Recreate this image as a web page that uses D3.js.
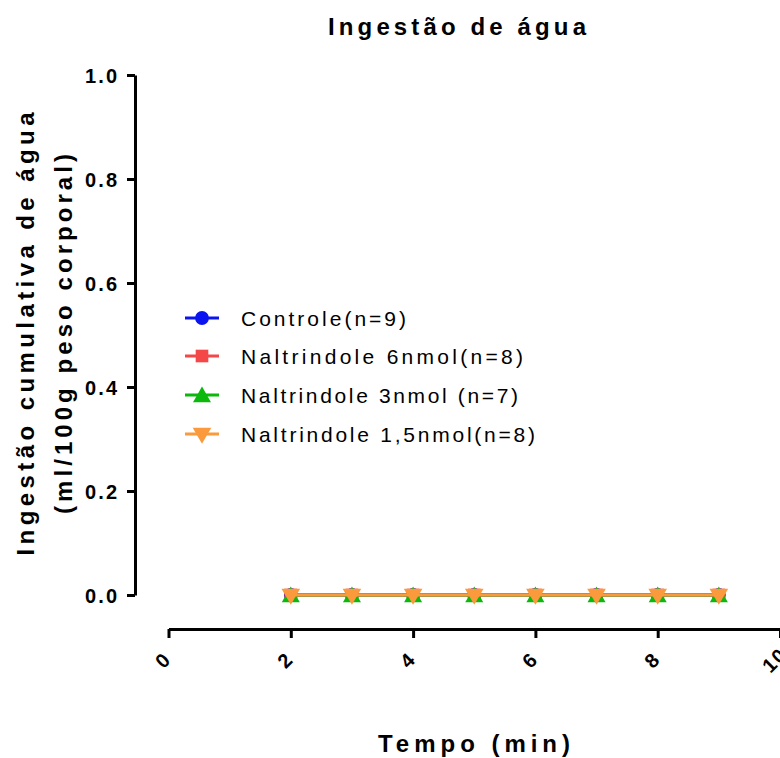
<!DOCTYPE html>
<html>
<head>
<meta charset="utf-8">
<script src="https://cdn.jsdelivr.net/npm/d3@7"></script>
<style>
  body { margin: 0; background: #fff; }
  svg { display: block; font-family: "Liberation Sans", Arial, sans-serif; }
</style>
</head>
<body>
<svg id="chart" width="780" height="758"></svg>
<script>
// Time points (min) and cumulative water intake per group
const times = [2, 3, 4, 5, 6, 7, 8, 9];
const controle = [0, 0, 0, 0, 0, 0, 0, 0];
const ntd6 = [0, 0, 0, 0, 0, 0, 0, 0];
const ntd3 = [0, 0, 0, 0, 0, 0, 0, 0];
const ntd15 = [0, 0, 0, 0, 0, 0, 0, 0];
const seriesNames = ["Controle(n=9)", "Naltrindole 6nmol(n=8)", "Naltrindole 3nmol (n=7)", "Naltrindole 1,5nmol(n=8)"];
const seriesColors = ["#0a14f0", "#f44848", "#0cb80c", "#fb9a3c"];
const xTicks = [0, 2, 4, 6, 8, 10];
const yTicks = [0, 0.2, 0.4, 0.6, 0.8, 1.0];

const FONT = "Liberation Sans, Arial, sans-serif";
const svg = d3.select("#chart");
const x = d3.scaleLinear().domain([0, 10]).range([168.5, 780]);
const y = d3.scaleLinear().domain([0, 1]).range([595, 75]);

// Wide-tracked text helper
function spaced(sel, len) {
  return sel.attr("textLength", len).attr("lengthAdjust", "spacing");
}

// Title
spaced(svg.append("text").attr("x", 457).attr("y", 35).attr("text-anchor", "middle")
  .attr("font-size", 24).attr("font-weight", "bold")
  .text("Ingestão de água"), 258);

// Y axis
const yAxis = svg.append("g").attr("transform", "translate(135,0)")
  .call(d3.axisLeft(y).tickValues(yTicks).tickFormat(d3.format(".1f")).tickSize(8).tickSizeOuter(0));
yAxis.select(".domain").attr("stroke", "#000").attr("stroke-width", 3);
yAxis.selectAll(".tick line").attr("stroke", "#000").attr("stroke-width", 3);
yAxis.selectAll(".tick text").attr("x", -18).attr("dy", "0.36em").attr("font-size", 20).attr("font-weight", "bold")
  .attr("fill", "#000").attr("font-family", FONT)
  .attr("textLength", 32).attr("lengthAdjust", "spacing");

// X axis
const xAxis = svg.append("g").attr("transform", "translate(0,629)")
  .call(d3.axisBottom(x).tickValues(xTicks).tickFormat(d3.format("d")).tickSize(9).tickSizeOuter(0));
xAxis.select(".domain").attr("stroke", "#000").attr("stroke-width", 3);
xAxis.selectAll(".tick text")
  .attr("y", 0).attr("dy", 0)
  .attr("transform", "translate(-1,36) rotate(-45)")
  .attr("text-anchor", "middle")
  .attr("font-size", 20).attr("font-weight", "bold").attr("letter-spacing", 1.5)
  .attr("fill", "#000").attr("font-family", FONT);
xAxis.selectAll(".tick line").attr("stroke", "#000").attr("stroke-width", 3);

// Axis titles
spaced(svg.append("text").attr("x", 474).attr("y", 752).attr("text-anchor", "middle")
  .attr("font-size", 24).attr("font-weight", "bold")
  .text("Tempo (min)"), 192);
const yt = svg.append("g").attr("transform", "translate(0,334) rotate(-90)");
spaced(yt.append("text").attr("x", 0).attr("y", 34).attr("text-anchor", "middle")
  .attr("font-size", 24).attr("font-weight", "bold")
  .text("Ingestão cumulativa de água"), 443);
spaced(yt.append("text").attr("x", 0).attr("y", 72).attr("text-anchor", "middle")
  .attr("font-size", 24).attr("font-weight", "bold")
  .text("(ml/100g peso corporal)"), 360);

// Marker shapes per series
const symbols = [d3.symbolCircle, d3.symbolSquare, d3.symbolTriangle, d3.symbolTriangle];
const sizes = [150, 160, 140, 150];
const rotations = [0, 0, 0, 180];
const offsets = [0, 0, 2, -1];
const data = [controle, ntd6, ntd3, ntd15];

const line = d3.line().x((d, i) => x(times[i])).y(d => y(d));

data.forEach((vals, s) => {
  const g = svg.append("g");
  g.append("path").datum(vals).attr("d", line).attr("fill", "none")
    .attr("stroke", seriesColors[s]).attr("stroke-width", 3);
  const sym = d3.symbol().type(symbols[s]).size(sizes[s]);
  g.selectAll("path.pt").data(vals).enter().append("path").attr("class", "pt")
    .attr("d", sym)
    .attr("fill", seriesColors[s])
    .attr("transform", (d, i) => `translate(${x(times[i])},${y(d) + offsets[s]}) rotate(${rotations[s]})`);
});

// Legend
const legendY = [318, 356, 395, 434];
const legendLen = [165, 282, 277, 294];
seriesNames.forEach((name, s) => {
  const g = svg.append("g").attr("transform", `translate(202,${legendY[s]})`);
  g.append("line").attr("x1", -17).attr("x2", 17).attr("stroke", seriesColors[s]).attr("stroke-width", 3);
  g.append("path").attr("d", d3.symbol().type(symbols[s]).size(sizes[s])())
    .attr("fill", seriesColors[s]).attr("transform", `translate(0,${offsets[s]}) rotate(${rotations[s]})`);
  spaced(g.append("text").attr("x", 39).attr("y", 8).attr("font-size", 21).text(name), legendLen[s]);
});
</script>
</body>
</html>
